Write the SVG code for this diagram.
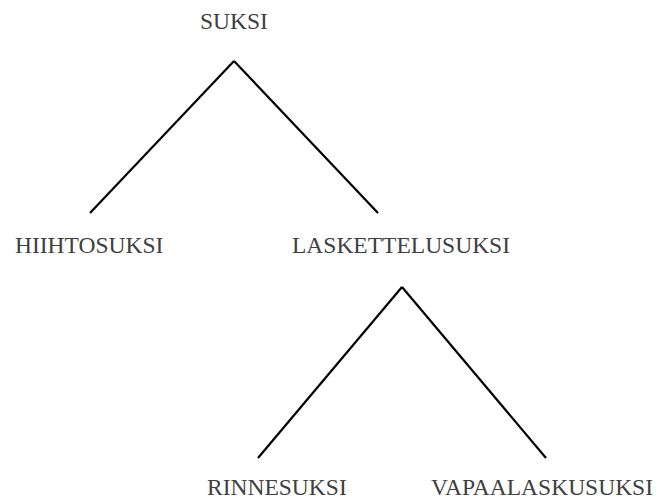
<svg xmlns="http://www.w3.org/2000/svg" width="663" height="500" viewBox="0 0 663 500">
<style>
text{font-family:"Liberation Serif","Times New Roman",serif;font-size:23.5px;fill:#404040}
.e{stroke:#000;stroke-width:2.2;fill:none}
</style>
<rect width="663" height="500" fill="#fff"/>
<g id="connectors">
<line class="e" x1="234" y1="61" x2="90" y2="213"/>
<line class="e" x1="234" y1="61" x2="378" y2="213"/>
<line class="e" x1="402" y1="287" x2="258" y2="458"/>
<line class="e" x1="402" y1="287" x2="546" y2="458"/>
</g>
<g id="suksi"><text x="200" y="29">SUKSI</text></g>
<g id="hiihtosuksi"><text x="15" y="253">HIIHTOSUKSI</text></g>
<g id="laskettelusuksi"><text x="292" y="253">LASKETTELUSUKSI</text></g>
<g id="rinnesuksi"><text x="207" y="495">RINNESUKSI</text></g>
<g id="vapaalaskusuksi"><text x="431" y="495">VAPAALASKUSUKSI</text></g>
</svg>
